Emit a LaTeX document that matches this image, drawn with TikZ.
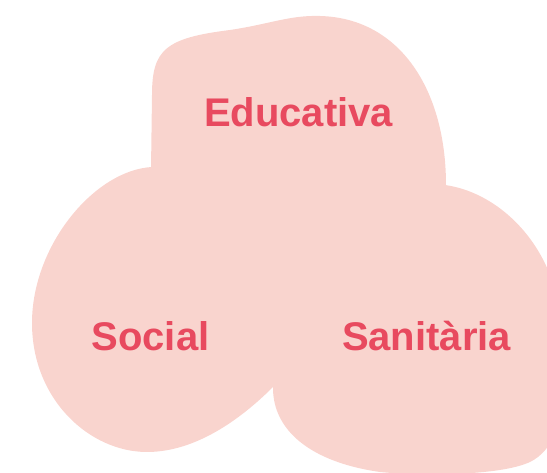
\documentclass[tikz,border=0pt]{standalone}
\usepackage{fontspec}
\setmainfont{Liberation Sans}
\definecolor{blobpink}{HTML}{F9D4CE}
\definecolor{textred}{HTML}{E84A5F}
\tikzset{area/.style = {fill=blobpink, draw=none}}
\tikzset{tag/.style = {text=textred, anchor=base, font=\bfseries\fontsize{40}{48}\selectfont}}

\begin{document}
\begin{tikzpicture}[x=1pt, y=-1pt]
\useasboundingbox (0,0) rectangle (547,473);
\clip (0,0) rectangle (547,473);
% Educativa blob
\fill [area] (151,170) -- (152,95) .. controls (152,50) and (165,38) .. (230,30)
  .. controls (270,24) and (290,15) .. (320,16) .. controls (400,18) and (446,90) .. (446,185)
  -- (400,280) -- (200,260) -- cycle;
% Social blob
\fill [area] (152,167) .. controls (95,170) and (32,245) .. (32,323)
  .. controls (32,400) and (90,452) .. (147,452) .. controls (195,452) and (240,420) .. (273,387)
  -- (320,280) -- (260,165) -- cycle;
% Sanitaria blob
\fill [area] (445,185) .. controls (495,192) and (540,235) .. (555,290)
  .. controls (570,350) and (575,440) .. (530,462) .. controls (500,476) and (420,476) .. (380,472)
  .. controls (310,462) and (273,430) .. (273,388) -- (260,280) -- (330,190) -- cycle;
\node [tag] (educativa) at (298.5,127) {Educativa};
\node [tag] (social) at (150.5,351) {Social};
\node [tag] (sanitaria) at (426.5,351) {Sanitària};
\end{tikzpicture}
\end{document}
